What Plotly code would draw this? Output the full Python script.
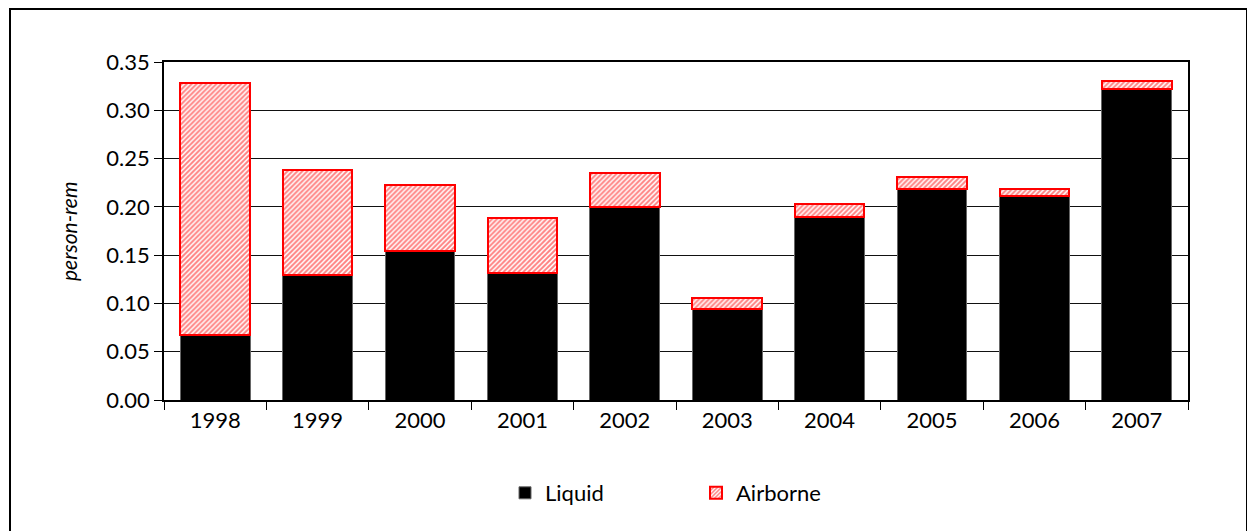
import plotly.graph_objects as go

years = ["1998", "1999", "2000", "2001", "2002", "2003", "2004", "2005", "2006", "2007"]
liquid = [0.067, 0.129, 0.154, 0.131, 0.200, 0.094, 0.189, 0.219, 0.211, 0.322]
airborne = [0.261, 0.109, 0.069, 0.057, 0.035, 0.012, 0.014, 0.012, 0.007, 0.008]
y_ticks = [0.00, 0.05, 0.10, 0.15, 0.20, 0.25, 0.30, 0.35]

FONT = "Lato"
OFF = 8  # page body margin

fig = go.Figure()
fig.add_trace(go.Bar(
    x=years, y=liquid, name="Liquid",
    marker=dict(color="black", line=dict(color="#666666", width=1)),
))
fig.add_trace(go.Bar(
    x=years, y=airborne, name="Airborne",
    marker=dict(
        color="white",
        line=dict(color="#ff0000", width=2),
        pattern=dict(shape="/", fgcolor="#ff0000", bgcolor="white", size=3.5, solidity=0.55),
    ),
))

W, H = 1255 - OFF, 531 - OFF
L, R, T, B = 164 - OFF, 1188 - OFF, 62 - OFF, 400 - OFF
pw, ph = R - L, B - T

def px_x(p):
    return (p - OFF - L) / pw

def px_y(p):
    return (B - (p - OFF)) / ph

fig.update_layout(
    width=W, height=H,
    margin=dict(l=L, r=W - R, t=T, b=H - B),
    barmode="stack",
    bargap=0.32,
    plot_bgcolor="white",
    paper_bgcolor="white",
    font=dict(family=FONT, size=22, color="black"),
    showlegend=True,
    legend=dict(
        orientation="h",
        traceorder="normal",
        x=px_x(505), xanchor="left",
        y=px_y(493), yanchor="middle",
        entrywidth=146, entrywidthmode="pixels",
        font=dict(family=FONT, size=22),
        itemclick=False,
    ),
    xaxis=dict(
        type="category",
        showline=True, linecolor="black", linewidth=1.5, mirror=True,
        ticks="outside", ticklen=8, tickwidth=1, tickcolor="black",
        tickson="boundaries",
        showgrid=False,
        tickfont=dict(family=FONT, size=22),
    ),
    xaxis2=dict(
        overlaying="x", anchor="y", side="bottom",
        range=[-0.5, 9.5],
        tickvals=[i - 0.5 for i in range(11)],
        ticks="inside", ticklen=7, tickwidth=1, tickcolor="black",
        showticklabels=False, showgrid=False, zeroline=False, showline=False,
    ),
    yaxis=dict(
        range=[0, 0.35],
        tickvals=y_ticks,
        tickformat=".2f",
        showline=True, linecolor="black", linewidth=1.5, mirror=True,
        ticks="outside", ticklen=8, tickwidth=1, tickcolor="black",
        showgrid=True, gridcolor="#111111", gridwidth=1.4,
        zeroline=False,
        tickfont=dict(family=FONT, size=22),
    ),
    annotations=[dict(
        text="<i>person-rem</i>",
        x=px_x(68), y=px_y(232), xref="paper", yref="paper",
        xanchor="center", yanchor="middle",
        textangle=-90, showarrow=False,
        font=dict(family=FONT, size=21),
    )],
    shapes=[dict(
        type="rect", xref="paper", yref="paper",
        x0=px_x(10), x1=px_x(1247), y0=px_y(560), y1=px_y(9),
        line=dict(color="black", width=2), fillcolor="rgba(0,0,0,0)",
        layer="below",
    )],
)

fig.write_html("out.html")
